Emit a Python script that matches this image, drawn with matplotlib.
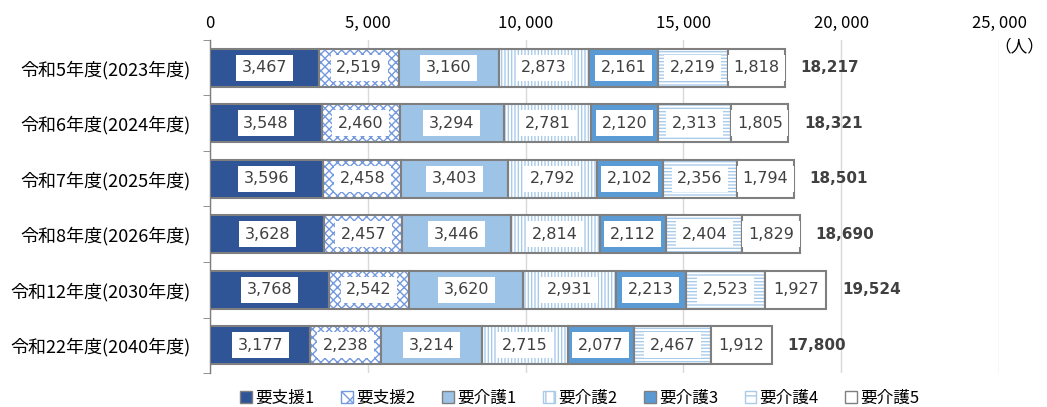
import matplotlib
matplotlib.use("Agg")
import matplotlib.pyplot as plt
from matplotlib.patches import Patch
import numpy as np

plt.rcParams['font.family'] = ['Noto Sans CJK JP', 'DejaVu Sans']
plt.rcParams['hatch.linewidth'] = 1.0

categories = ["令和5年度(2023年度)", "令和6年度(2024年度)", "令和7年度(2025年度)",
              "令和8年度(2026年度)", "令和12年度(2030年度)", "令和22年度(2040年度)"]
series_names = ["要支援1", "要支援2", "要介護1", "要介護2", "要介護3", "要介護4", "要介護5"]
shien1 = [3467, 3548, 3596, 3628, 3768, 3177]
shien2 = [2519, 2460, 2458, 2457, 2542, 2238]
kaigo1 = [3160, 3294, 3403, 3446, 3620, 3214]
kaigo2 = [2873, 2781, 2792, 2814, 2931, 2715]
kaigo3 = [2161, 2120, 2102, 2112, 2213, 2077]
kaigo4 = [2219, 2313, 2356, 2404, 2523, 2467]
kaigo5 = [1818, 1805, 1794, 1829, 1927, 1912]
totals = [18217, 18321, 18501, 18690, 19524, 17800]
x_ticks = [0, 5000, 10000, 15000, 20000, 25000]

series = [shien1, shien2, kaigo1, kaigo2, kaigo3, kaigo4, kaigo5]
styles = [
    dict(face="#2F5597", hatch=None, hcol=None),
    dict(face="white", hatch="xxxx", hcol="#7399DE"),
    dict(face="#9DC3E6", hatch=None, hcol=None),
    dict(face="white", hatch="|||||", hcol="#A9CBEA"),
    dict(face="#5B9BD5", hatch=None, hcol=None),
    dict(face="white", hatch="-----", hcol="#A9CBEA"),
    dict(face="white", hatch=None, hcol=None),
]

fig = plt.figure(figsize=(10.47, 4.07), dpi=100)
ax = fig.add_axes([210/1047, 1-373/407, (999-210)/1047, (373-40)/407])

y = np.arange(len(categories))
h = 0.69
left = np.zeros(len(categories))
text_col = "#404040"
for vals, st in zip(series, styles):
    vals = np.array(vals)
    if st["hatch"]:
        ax.barh(y, vals, left=left, height=h, color=st["face"], hatch=st["hatch"],
                edgecolor=st["hcol"], linewidth=0, zorder=2)
        ax.barh(y, vals, left=left, height=h, fill=False, edgecolor="#7F7F7F",
                linewidth=1.5, zorder=3)
    else:
        ax.barh(y, vals, left=left, height=h, color=st["face"],
                edgecolor="#7F7F7F", linewidth=1.5, zorder=3)
    for yi, l, v in zip(y, left, vals):
        ax.text(l + v/2, yi, f"{v:,}", ha="center", va="center", fontsize=11.5,
                color=text_col, family="DejaVu Sans", zorder=5,
                bbox=dict(boxstyle="square,pad=0.35", fc="white", ec="none"))
    left = left + vals

for yi, tot, l in zip(y, totals, left):
    ax.text(l + 500, yi, f"{tot:,}", ha="left", va="center", fontsize=11,
            fontweight="bold", color=text_col, family="DejaVu Sans")

ax.set_xlim(0, 25000)
ax.set_ylim(len(categories) - 0.5, -0.5)
ax.xaxis.tick_top()
ax.set_xticks(x_ticks)
ax.set_xticklabels([f"{v:,}".replace(",", ", ") for v in x_ticks], fontsize=12)
ax.tick_params(axis="x", length=0, pad=6)
ax.set_yticks(y)
ax.set_yticklabels(categories, fontsize=13)
ax.set_yticks(np.arange(len(categories) + 1) - 0.5, minor=True)
ax.tick_params(axis="y", which="major", length=0, pad=14)
ax.tick_params(axis="y", which="minor", length=5, color="#7F7F7F")
ax.grid(axis="x", color="#D9D9D9", linewidth=1, zorder=0)
ax.set_axisbelow(True)
for s in ["top", "right", "bottom"]:
    ax.spines[s].set_visible(False)
ax.spines["left"].set_color("#7F7F7F")
ax.spines["left"].set_linewidth(1.0)

fig.text(1044/1047, 1-47/407, "（人）", ha="right", va="center", fontsize=12)

handles = []
for name, st in zip(series_names, styles):
    if st["hatch"]:
        handles.append(Patch(facecolor="white", hatch=st["hatch"][:2], edgecolor=st["hcol"], label=name))
    else:
        handles.append(Patch(facecolor=st["face"], edgecolor="#7F7F7F", label=name))
fig.legend(handles=handles, loc="center", bbox_to_anchor=(580/1047, 1-398/407), ncol=7,
           frameon=False, fontsize=12, handlelength=0.7, handleheight=0.7,
           handletextpad=0.2, columnspacing=1.6)

fig.savefig("out.png", dpi=100)
